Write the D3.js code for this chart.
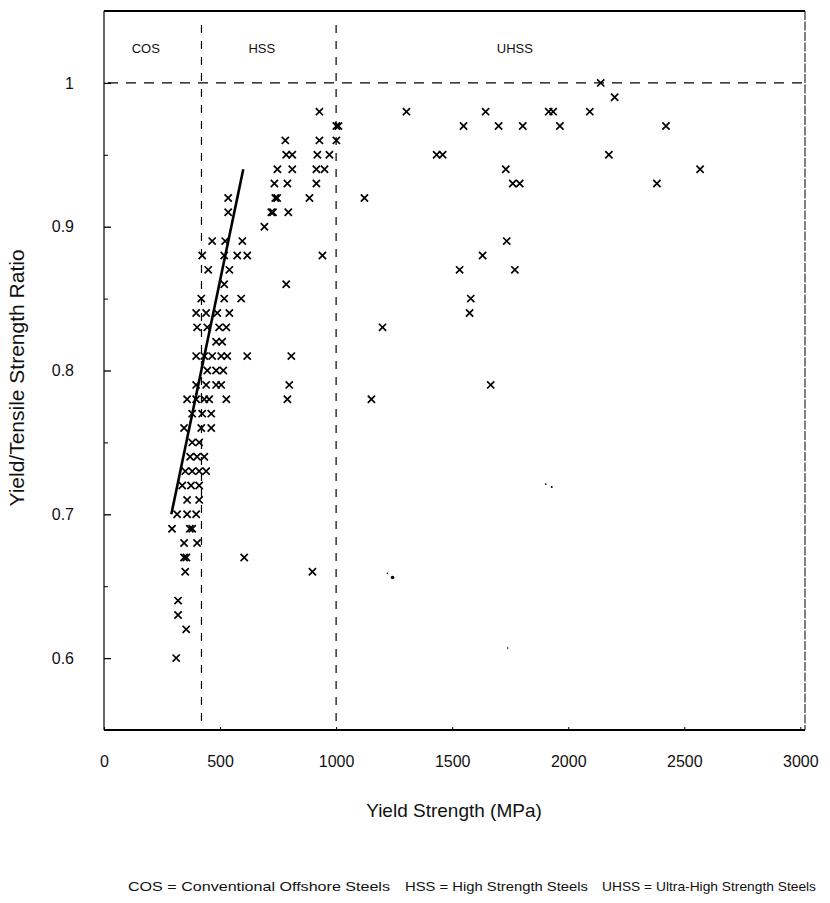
<!DOCTYPE html>
<html>
<head>
<meta charset="utf-8">
<script src="https://cdn.jsdelivr.net/npm/d3@7"></script>
<style>
  body { margin: 0; background: #fff; }
  text { font-family: "Liberation Sans", Arial, sans-serif; fill: #111; }
</style>
</head>
<body>
<svg id="chart" width="830" height="903"></svg>
<script>
// Yield strength (MPa) and yield/tensile ratio of each tested steel
const yieldMPa = [
  311, 354, 319, 319,
  350, 898,
  345, 355, 604,
  345, 401,
  293, 370, 380,
  315, 358, 397,
  358, 410,
  337, 375, 410,
  350, 380, 410, 440,
  371, 401, 432,
  380, 410,
  345, 419, 462,
  380, 423, 462,
  358, 397, 432, 453, 527, 790, 1152,
  397, 440, 483, 505, 798, 1666,
  445, 483, 514,
  397, 432, 466, 505, 531, 617, 807,
  483, 509,
  401, 445, 496, 527, 1200,
  397, 440, 488, 540, 1575,
  419, 518, 591, 1580,
  518, 785,
  449, 540, 1532, 1770,
  423, 518, 574, 617, 941, 1631,
  466, 522, 596, 1735,
  691,
  535, 721, 728, 794,
  535, 738, 746, 885, 1122,
  734, 790, 915, 1761, 1791, 2382,
  747, 811, 915, 950, 1731, 2568,
  785, 811, 919, 971, 1433, 1459, 2175,
  781, 928, 1001,
  1001, 1010, 1549, 1700, 1804, 1964, 2421,
  928, 1303, 1644, 1916, 1935, 2093,
  2200,
  2140
];
const ytRatio = [
  0.60, 0.62, 0.63, 0.64,
  0.66, 0.66,
  0.67, 0.67, 0.67,
  0.68, 0.68,
  0.69, 0.69, 0.69,
  0.70, 0.70, 0.70,
  0.71, 0.71,
  0.72, 0.72, 0.72,
  0.73, 0.73, 0.73, 0.73,
  0.74, 0.74, 0.74,
  0.75, 0.75,
  0.76, 0.76, 0.76,
  0.77, 0.77, 0.77,
  0.78, 0.78, 0.78, 0.78, 0.78, 0.78, 0.78,
  0.79, 0.79, 0.79, 0.79, 0.79, 0.79,
  0.80, 0.80, 0.80,
  0.81, 0.81, 0.81, 0.81, 0.81, 0.81, 0.81,
  0.82, 0.82,
  0.83, 0.83, 0.83, 0.83, 0.83,
  0.84, 0.84, 0.84, 0.84, 0.84,
  0.85, 0.85, 0.85, 0.85,
  0.86, 0.86,
  0.87, 0.87, 0.87, 0.87,
  0.88, 0.88, 0.88, 0.88, 0.88, 0.88,
  0.89, 0.89, 0.89, 0.89,
  0.90,
  0.91, 0.91, 0.91, 0.91,
  0.92, 0.92, 0.92, 0.92, 0.92,
  0.93, 0.93, 0.93, 0.93, 0.93, 0.93,
  0.94, 0.94, 0.94, 0.94, 0.94, 0.94,
  0.95, 0.95, 0.95, 0.95, 0.95, 0.95, 0.95,
  0.96, 0.96, 0.96,
  0.97, 0.97, 0.97, 0.97, 0.97, 0.97, 0.97,
  0.98, 0.98, 0.98, 0.98, 0.98, 0.98,
  0.99,
  1.00
];

// faint printed dots
const speckMPa   = [1221, 1243, 1903, 1929, 1739];
const speckRatio = [0.659, 0.656, 0.721, 0.719, 0.607];
const speckSize  = [0.8, 1.8, 0.9, 1.0, 0.8];

// trend line through the conventional / high strength steels
const trendMPa   = [290, 600];
const trendRatio = [0.70, 0.94];

// class boundaries and names
const classBounds = [420, 1000];
const classNames  = ["COS", "HSS", "UHSS"];
const classAt     = [180, 680, 1770];
const refRatio    = 1.0;

const xTicks = [0, 500, 1000, 1500, 2000, 2500, 3000];
const yTicks = [0.6, 0.7, 0.8, 0.9, 1];
const yMinor = [0.65, 0.75, 0.85, 0.95];

const footnotes = [
  "COS = Conventional Offshore Steels",
  "HSS = High Strength Steels",
  "UHSS = Ultra-High Strength Steels"
];

const svg = d3.select("#chart");
const L = 104, R = 805, T = 11, B = 730;

const x = d3.scaleLinear().domain([0, 3020]).range([L, R]);
const y = d3.scaleLinear().domain([0.55, 1.05]).range([B, T]);

// frame
svg.append("line").attr("x1", L).attr("x2", R).attr("y1", T).attr("y2", T)
  .attr("stroke", "#000").attr("stroke-width", 2.2);
svg.append("line").attr("x1", L).attr("x2", R).attr("y1", B).attr("y2", B)
  .attr("stroke", "#000").attr("stroke-width", 2);
svg.append("line").attr("x1", L).attr("x2", L).attr("y1", T).attr("y2", B)
  .attr("stroke", "#000").attr("stroke-width", 1.2);
svg.append("line").attr("x1", R).attr("x2", R).attr("y1", T).attr("y2", B)
  .attr("stroke", "#000").attr("stroke-width", 1).attr("stroke-dasharray", "9,1.5");

// y axis: inward ticks, labels on the left
const yAxis = d3.axisLeft(y).tickValues(yTicks).tickSize(-7).tickPadding(30)
  .tickFormat(d => d === 1 ? "1" : d3.format(".1f")(d));
const gy = svg.append("g").attr("transform", `translate(${L},0)`).call(yAxis);
gy.select(".domain").remove();
gy.selectAll(".tick line").attr("stroke", "#000").attr("stroke-width", 1.3);
gy.selectAll(".tick text").attr("font-size", 16).attr("fill", "#111")
  .attr("font-family", "'Liberation Sans', Arial, sans-serif");
svg.append("g").attr("transform", `translate(${L},0)`)
  .call(d3.axisLeft(y).tickValues(yMinor).tickSize(-4).tickFormat(""))
  .call(g => g.select(".domain").remove())
  .selectAll("line").attr("stroke", "#000");

// x axis: labels below the frame
const xAxis = d3.axisBottom(x).tickValues(xTicks).tickSize(-3).tickPadding(26)
  .tickFormat(d3.format("d"));
const gx = svg.append("g").attr("transform", `translate(0,${B})`).call(xAxis);
gx.select(".domain").remove();
gx.selectAll(".tick line").attr("stroke", "#000");
gx.selectAll(".tick text").attr("font-size", 16).attr("fill", "#111")
  .attr("font-family", "'Liberation Sans', Arial, sans-serif");

// class boundaries
svg.selectAll(".bound").data(classBounds).join("line")
  .attr("class", "bound")
  .attr("x1", d => x(d)).attr("x2", d => x(d))
  .attr("y1", T + 14).attr("y2", B)
  .attr("stroke", "#000").attr("stroke-width", 1.2).attr("stroke-dasharray", "8,8");
svg.append("line")
  .attr("x1", L + 4).attr("x2", R).attr("y1", y(refRatio)).attr("y2", y(refRatio))
  .attr("stroke", "#000").attr("stroke-width", 1.3).attr("stroke-dasharray", "10,8");

svg.selectAll(".cls").data(classNames).join("text")
  .attr("class", "cls")
  .attr("x", (d, i) => x(classAt[i])).attr("y", 53)
  .attr("text-anchor", "middle").attr("font-size", 13)
  .text(d => d);

// trend line
svg.append("path")
  .datum(trendMPa.map((d, i) => [d, trendRatio[i]]))
  .attr("d", d3.line().x(d => x(d[0])).y(d => y(d[1])))
  .attr("stroke", "#000").attr("stroke-width", 2.6).attr("fill", "none");

// data markers: small crosses
const pts = yieldMPa.map((d, i) => ({ s: d, r: ytRatio[i] }));
const h = 3.6;
svg.append("g").selectAll("path").data(pts).join("path")
  .attr("d", d => {
    const cx = x(d.s), cy = y(d.r);
    return `M${cx - h},${cy - h}L${cx + h},${cy + h}M${cx - h},${cy + h}L${cx + h},${cy - h}`;
  })
  .attr("stroke", "#000").attr("stroke-width", 1.7).attr("fill", "none");

svg.append("g").selectAll("circle").data(speckMPa).join("circle")
  .attr("cx", d => x(d)).attr("cy", (d, i) => y(speckRatio[i]))
  .attr("r", (d, i) => speckSize[i]).attr("fill", "#000");

// axis titles
svg.append("text")
  .attr("transform", `translate(24,378) rotate(-90)`)
  .attr("text-anchor", "middle").attr("font-size", 21)
  .text("Yield/Tensile Strength Ratio");
svg.append("text")
  .attr("x", 454).attr("y", 817)
  .attr("text-anchor", "middle").attr("font-size", 19)
  .text("Yield Strength (MPa)");

// footnote: three definitions on one line
const noteX = [128, 405, 602];
const noteW = [262, 183, 214];
svg.selectAll(".note").data(footnotes).join("text")
  .attr("class", "note")
  .attr("x", (d, i) => noteX[i]).attr("y", 891)
  .attr("font-size", 13)
  .attr("textLength", (d, i) => noteW[i]).attr("lengthAdjust", "spacingAndGlyphs")
  .text(d => d);
</script>
</body>
</html>
